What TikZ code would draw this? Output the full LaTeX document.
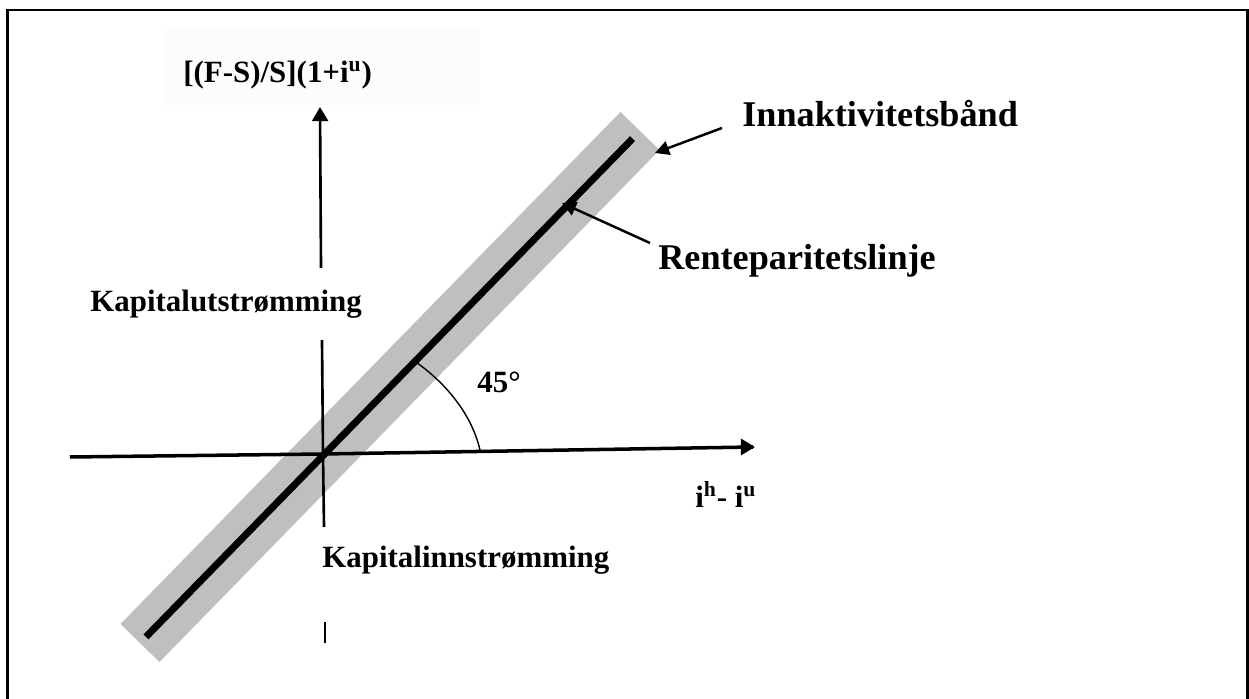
\documentclass[tikz,border=0pt]{standalone}
\usepackage{fontspec}
\setmainfont{Liberation Serif}
\usepackage{tikz}
\usetikzlibrary{arrows.meta,positioning,calc}

\begin{document}
\begin{tikzpicture}[
  x=0.02cm, y=-0.02cm,
  font=\bfseries,
  small/.style={inner sep=0pt, font=\fontsize{17.6}{21}\selectfont\bfseries},
  big/.style={inner sep=0pt, font=\fontsize{20.6}{24}\selectfont\bfseries},
  axis/.style={line width=2pt},
  pointer/.style={-{Triangle[length=8pt,width=8pt]}, line width=1.4pt},
]
  \useasboundingbox (0,0) rectangle (1249,699);
  \draw[line width=1.7pt] (7.5,720) -- (7.5,10) -- (1247.5,10) -- (1247.5,720);
  \fill[black!1] (163,28) rectangle (480,105);

  % band and parity line
  \coordinate (bandlo) at (140,643);
  \coordinate (bandhi) at (640,131);
  \draw[black!25, line width=31pt] (bandlo) -- (bandhi);
  \draw[line width=4pt] ($(bandlo)!0.012!(bandhi)$) -- ($(bandlo)!0.985!(bandhi)$);

  % axes
  \coordinate (O) at (323,454);
  \coordinate (xl) at (70,457);
  \coordinate (xr) at (753,447);
  \coordinate (ytop) at (320,107);
  \draw[axis] (xl) -- (O) -- (xr);
  \draw[-{Triangle[length=8pt,width=9pt]}, axis] (xr) -- ++(2,0);

  \node[small, anchor=base west] (yl) at (183,83) {[(F-S)/S](1+i\textsuperscript{u})};
  \node[small, anchor=base west] (out) at (90,312) {Kapitalutstrømming};
  \node[small, anchor=base west] (inn) at (322,567) {Kapitalinnstrømming};
  \node[small, anchor=base west] (xlab) at (695,508) {i\textsuperscript{h}- i\textsuperscript{u}};
  \node[small, anchor=base west] (deg) at (477,393) {45°};

  \draw[-{Triangle[length=8pt,width=9pt]}, line width=1.5pt] (321,268) -- (ytop);
  \draw[line width=1.5pt] (322,340) -- (O) -- (324,527);
  \draw[line width=1.5pt] (325,622) -- (325,643);

  % angle mark
  \coordinate (arcA) at (413,360);
  \coordinate (arcB) at (480,450);
  \draw[line width=0.8pt] (arcA) .. controls (448,384) and (472,416) .. (arcB);

  \node[big, anchor=base west] (band) at (742,127) {Innaktivitetsbånd};
  \node[big, anchor=base west] (line) at (658,270) {Renteparitetslinje};
  \coordinate (bandtip) at (655,153);
  \coordinate (linetip) at (562,203);
  \draw[pointer] (722,128) -- (bandtip);
  \draw[pointer] (650,243) -- (linetip);
\end{tikzpicture}
\end{document}
